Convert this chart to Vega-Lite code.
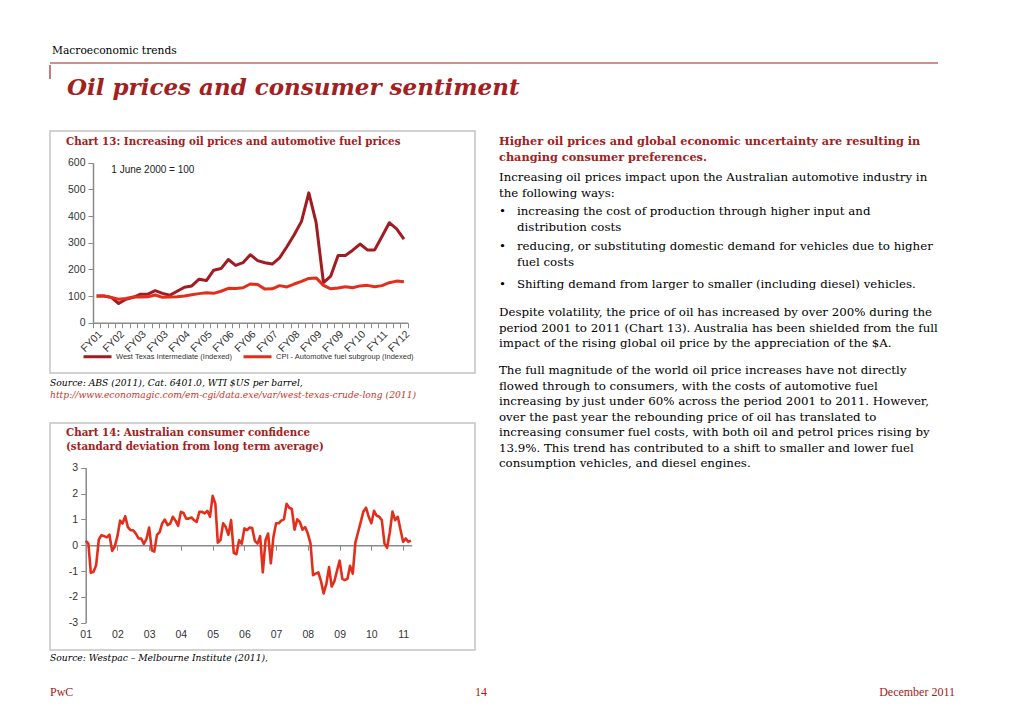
{
  "$schema": "https://vega.github.io/schema/vega-lite/v6.json",
  "background": "white",
  "padding": {"left": 49, "top": 44, "right": 0, "bottom": 0},
  "spacing": 0,
  "config": {
    "view": {"stroke": null},
    "title": {"font": "DejaVu Serif", "anchor": "start", "frame": "group", "fontWeight": "normal", "color": "#000000", "subtitleFont": "DejaVu Serif", "subtitleColor": "#000000", "subtitleFontWeight": "normal"},
    "axis": {"labelFont": "Liberation Sans", "labelColor": "#333333", "domainColor": "#8a8a8a", "tickColor": "#8a8a8a", "grid": false, "labelFontSize": 10.5},
    "legend": {"labelFont": "Liberation Sans"},
    "text": {"font": "Liberation Sans"}
  },
  "datasets": {
    "oil": [
      {"quarter": "2001-03", "wti": 100, "cpi": 100},
      {"quarter": "2001-06", "wti": 100, "cpi": 100},
      {"quarter": "2001-09", "wti": 95, "cpi": 95},
      {"quarter": "2001-12", "wti": 72, "cpi": 88},
      {"quarter": "2002-03", "wti": 88, "cpi": 91},
      {"quarter": "2002-06", "wti": 95, "cpi": 96},
      {"quarter": "2002-09", "wti": 107, "cpi": 96},
      {"quarter": "2002-12", "wti": 107, "cpi": 97},
      {"quarter": "2003-03", "wti": 120, "cpi": 104},
      {"quarter": "2003-06", "wti": 110, "cpi": 95},
      {"quarter": "2003-09", "wti": 103, "cpi": 96},
      {"quarter": "2003-12", "wti": 118, "cpi": 97},
      {"quarter": "2004-03", "wti": 133, "cpi": 100},
      {"quarter": "2004-06", "wti": 138, "cpi": 105},
      {"quarter": "2004-09", "wti": 163, "cpi": 109},
      {"quarter": "2004-12", "wti": 158, "cpi": 112},
      {"quarter": "2005-03", "wti": 197, "cpi": 110},
      {"quarter": "2005-06", "wti": 203, "cpi": 118},
      {"quarter": "2005-09", "wti": 237, "cpi": 129},
      {"quarter": "2005-12", "wti": 215, "cpi": 128},
      {"quarter": "2006-03", "wti": 225, "cpi": 131},
      {"quarter": "2006-06", "wti": 255, "cpi": 145},
      {"quarter": "2006-09", "wti": 233, "cpi": 143},
      {"quarter": "2006-12", "wti": 225, "cpi": 126},
      {"quarter": "2007-03", "wti": 220, "cpi": 127},
      {"quarter": "2007-06", "wti": 243, "cpi": 139},
      {"quarter": "2007-09", "wti": 285, "cpi": 134},
      {"quarter": "2007-12", "wti": 330, "cpi": 145},
      {"quarter": "2008-03", "wti": 380, "cpi": 155},
      {"quarter": "2008-06", "wti": 487, "cpi": 166},
      {"quarter": "2008-09", "wti": 375, "cpi": 168},
      {"quarter": "2008-12", "wti": 150, "cpi": 140},
      {"quarter": "2009-03", "wti": 175, "cpi": 127},
      {"quarter": "2009-06", "wti": 252, "cpi": 130},
      {"quarter": "2009-09", "wti": 252, "cpi": 135},
      {"quarter": "2009-12", "wti": 272, "cpi": 131},
      {"quarter": "2010-03", "wti": 295, "cpi": 138},
      {"quarter": "2010-06", "wti": 273, "cpi": 140},
      {"quarter": "2010-09", "wti": 273, "cpi": 135},
      {"quarter": "2010-12", "wti": 323, "cpi": 139},
      {"quarter": "2011-03", "wti": 375, "cpi": 150},
      {"quarter": "2011-06", "wti": 352, "cpi": 156},
      {"quarter": "2011-09", "wti": 313, "cpi": 154}
    ],
    "confidence": [
      {"month": "2001-01", "conf": 0.17}, {"month": "2001-02", "conf": 0.06}, {"month": "2001-03", "conf": -1.07}, {"month": "2001-04", "conf": -1.03},
      {"month": "2001-05", "conf": -0.78}, {"month": "2001-06", "conf": 0.22}, {"month": "2001-07", "conf": 0.39}, {"month": "2001-08", "conf": 0.35},
      {"month": "2001-09", "conf": 0.3}, {"month": "2001-10", "conf": 0.41}, {"month": "2001-11", "conf": -0.22}, {"month": "2001-12", "conf": -0.06},
      {"month": "2002-01", "conf": 0.35}, {"month": "2002-02", "conf": 0.95}, {"month": "2002-03", "conf": 0.84}, {"month": "2002-04", "conf": 1.12},
      {"month": "2002-05", "conf": 0.7}, {"month": "2002-06", "conf": 0.58}, {"month": "2002-07", "conf": 0.58}, {"month": "2002-08", "conf": 0.45},
      {"month": "2002-09", "conf": 0.26}, {"month": "2002-10", "conf": 0.26}, {"month": "2002-11", "conf": 0.05}, {"month": "2002-12", "conf": 0.24},
      {"month": "2003-01", "conf": 0.68}, {"month": "2003-02", "conf": -0.2}, {"month": "2003-03", "conf": -0.25}, {"month": "2003-04", "conf": 0.4},
      {"month": "2003-05", "conf": 0.5}, {"month": "2003-06", "conf": 0.85}, {"month": "2003-07", "conf": 0.99}, {"month": "2003-08", "conf": 0.78},
      {"month": "2003-09", "conf": 0.84}, {"month": "2003-10", "conf": 1.1}, {"month": "2003-11", "conf": 0.95}, {"month": "2003-12", "conf": 0.75},
      {"month": "2004-01", "conf": 1.29}, {"month": "2004-02", "conf": 1.25}, {"month": "2004-03", "conf": 1.03}, {"month": "2004-04", "conf": 1.03},
      {"month": "2004-05", "conf": 1.07}, {"month": "2004-06", "conf": 0.97}, {"month": "2004-07", "conf": 0.9}, {"month": "2004-08", "conf": 1.29},
      {"month": "2004-09", "conf": 1.29}, {"month": "2004-10", "conf": 1.23}, {"month": "2004-11", "conf": 1.33}, {"month": "2004-12", "conf": 1.1},
      {"month": "2005-01", "conf": 1.91}, {"month": "2005-02", "conf": 1.6}, {"month": "2005-03", "conf": 0.1}, {"month": "2005-04", "conf": 0.2},
      {"month": "2005-05", "conf": 0.85}, {"month": "2005-06", "conf": 0.7}, {"month": "2005-07", "conf": 0.4}, {"month": "2005-08", "conf": 0.97},
      {"month": "2005-09", "conf": -0.3}, {"month": "2005-10", "conf": -0.35}, {"month": "2005-11", "conf": 0.19}, {"month": "2005-12", "conf": 0.06},
      {"month": "2006-01", "conf": 0.65}, {"month": "2006-02", "conf": 0.58}, {"month": "2006-03", "conf": 0.68}, {"month": "2006-04", "conf": 0.66},
      {"month": "2006-05", "conf": 0.17}, {"month": "2006-06", "conf": 0.06}, {"month": "2006-07", "conf": 0.35}, {"month": "2006-08", "conf": -1.05},
      {"month": "2006-09", "conf": 0.19}, {"month": "2006-10", "conf": 0.45}, {"month": "2006-11", "conf": -0.7}, {"month": "2006-12", "conf": 0.32},
      {"month": "2007-01", "conf": 0.85}, {"month": "2007-02", "conf": 0.85}, {"month": "2007-03", "conf": 0.95}, {"month": "2007-04", "conf": 1.0},
      {"month": "2007-05", "conf": 1.6}, {"month": "2007-06", "conf": 1.45}, {"month": "2007-07", "conf": 1.4}, {"month": "2007-08", "conf": 0.6},
      {"month": "2007-09", "conf": 1.0}, {"month": "2007-10", "conf": 0.9}, {"month": "2007-11", "conf": 0.6}, {"month": "2007-12", "conf": 0.7},
      {"month": "2008-01", "conf": 0.45}, {"month": "2008-02", "conf": 0.06}, {"month": "2008-03", "conf": -1.16}, {"month": "2008-04", "conf": -1.1},
      {"month": "2008-05", "conf": -1.05}, {"month": "2008-06", "conf": -1.4}, {"month": "2008-07", "conf": -1.87}, {"month": "2008-08", "conf": -1.5},
      {"month": "2008-09", "conf": -0.85}, {"month": "2008-10", "conf": -1.6}, {"month": "2008-11", "conf": -1.4}, {"month": "2008-12", "conf": -1.0},
      {"month": "2009-01", "conf": -0.6}, {"month": "2009-02", "conf": -1.3}, {"month": "2009-03", "conf": -1.35}, {"month": "2009-04", "conf": -1.3},
      {"month": "2009-05", "conf": -0.8}, {"month": "2009-06", "conf": -1.1}, {"month": "2009-07", "conf": 0.1}, {"month": "2009-08", "conf": 0.5},
      {"month": "2009-09", "conf": 0.9}, {"month": "2009-10", "conf": 1.3}, {"month": "2009-11", "conf": 1.45}, {"month": "2009-12", "conf": 1.1},
      {"month": "2010-01", "conf": 0.85}, {"month": "2010-02", "conf": 1.33}, {"month": "2010-03", "conf": 1.15}, {"month": "2010-04", "conf": 1.1},
      {"month": "2010-05", "conf": 0.97}, {"month": "2010-06", "conf": 0.06}, {"month": "2010-07", "conf": -0.1}, {"month": "2010-08", "conf": 0.5},
      {"month": "2010-09", "conf": 1.3}, {"month": "2010-10", "conf": 0.97}, {"month": "2010-11", "conf": 1.1}, {"month": "2010-12", "conf": 0.62},
      {"month": "2011-01", "conf": 0.13}, {"month": "2011-02", "conf": 0.26}, {"month": "2011-03", "conf": 0.13}, {"month": "2011-04", "conf": 0.18}
    ]
  },
  "vconcat": [
    {
      "width": 888,
      "height": 1,
      "data": {"values": [{}]},
      "title": {"text": "Macroeconomic trends", "orient": "top", "offset": 6, "dx": 2, "fontSize": 10.7},
      "mark": {"type": "rule", "color": "#A32020", "strokeWidth": 1.2},
      "encoding": {"y": {"value": 0}}
    },
    {
      "width": 888,
      "height": 64,
      "data": {"values": [{}]},
      "title": {"text": "Oil prices and consumer sentiment", "orient": "top", "offset": -36, "dx": 17, "fontSize": 23, "fontWeight": "bold", "fontStyle": "italic", "color": "#A32020"},
      "mark": {"type": "rule", "color": "#A32020", "strokeWidth": 1.2},
      "encoding": {"x": {"value": 0}, "y": {"value": -1}, "y2": {"value": 13}}
    },
    {
      "hconcat": [
        {
          "vconcat": [
            {
              "width": 425,
              "height": 242,
              "view": {"stroke": "#c4c4c4", "strokeWidth": 1.5},
              "title": {"text": "Chart  13: Increasing oil prices and automotive fuel prices", "orient": "top", "offset": -16, "dx": 16, "fontSize": 10.3, "fontWeight": "bold", "color": "#A32020"},
              "data": {"name": "oil"},
              "layer": [
                {
                  "transform": [{"fold": ["wti", "cpi"], "as": ["series", "index"]}],
                  "mark": {"type": "line", "strokeWidth": 3, "strokeJoin": "round"},
                  "encoding": {
                    "x": {
                      "field": "quarter", "type": "ordinal",
                      "scale": {"type": "band", "range": [43, 357.6], "paddingInner": 0, "paddingOuter": 0},
                      "axis": {
                        "orient": "bottom", "offset": -50.3, "tickBand": "extent", "tickSize": 5, "domainWidth": 1.5,
                        "labelAngle": -45, "labelAlign": "right", "labelBaseline": "top", "labelPadding": 1, "labelOverlap": false,
                        "title": null,
                        "labelExpr": "(((parseInt(substring(datum.value,0,4)) - 2001) * 12 + parseInt(substring(datum.value,5,7)) - 3) % 9 == 0) ? ('FY' + ((parseInt(substring(datum.value,2,4)) + (parseInt(substring(datum.value,5,7)) >= 7 ? 1 : 0)) < 10 ? '0' : '') + (parseInt(substring(datum.value,2,4)) + (parseInt(substring(datum.value,5,7)) >= 7 ? 1 : 0))) : ''"
                      }
                    },
                    "y": {
                      "field": "index", "type": "quantitative",
                      "scale": {"domain": [0, 600], "range": [191.7, 31.7], "nice": false},
                      "axis": {"orient": "left", "offset": -43, "values": [0, 100, 200, 300, 400, 500, 600], "tickSize": 5, "labelPadding": 3, "domainWidth": 1.5, "title": null}
                    },
                    "color": {
                      "field": "series", "type": "nominal",
                      "scale": {"domain": ["wti", "cpi"], "range": ["#A11B21", "#E42E1C"]},
                      "legend": {
                        "orient": "none", "legendX": 32, "legendY": 278, "direction": "horizontal", "title": null,
                        "symbolType": "stroke", "symbolSize": 784, "symbolStrokeWidth": 3,
                        "labelFontSize": 7.5, "labelColor": "#333333", "columnPadding": 4, "labelOffset": 3,
                        "labelExpr": "datum.value == 'wti' ? 'West Texas Intermediate (Indexed)' : 'CPI - Automotive fuel subgroup (Indexed)'"
                      }
                    }
                  }
                },
                {
                  "transform": [{"filter": "datum.quarter == '2001-09'"}],
                  "mark": {"type": "text", "align": "left", "baseline": "middle", "fontSize": 10, "color": "#222222"},
                  "encoding": {
                    "x": {"field": "quarter", "type": "ordinal"},
                    "y": {"datum": 572, "type": "quantitative"},
                    "text": {"value": "1 June 2000 = 100"}
                  }
                }
              ]
            },
            {
              "width": 425,
              "height": 50,
              "data": {"values": [{}]},
              "title": {
                "text": "Source: ABS (2011), Cat.  6401.0,  WTI $US per barrel,",
                "subtitle": "http://www.economagic.com/em-cgi/data.exe/var/west-texas-crude-long  (2011)",
                "orient": "top", "offset": -27, "fontSize": 9.2, "fontStyle": "italic",
                "subtitleFontSize": 9.2, "subtitleFontStyle": "italic", "subtitleColor": "#C0392B", "subtitlePadding": 3
              },
              "mark": {"type": "text", "fontSize": 1},
              "encoding": {"text": {"value": ""}}
            },
            {
              "width": 425,
              "height": 227,
              "view": {"stroke": "#c4c4c4", "strokeWidth": 1.5},
              "title": {"text": ["Chart  14: Australian consumer confidence", "(standard deviation from long term average)"], "orient": "top", "offset": -29, "dx": 16, "fontSize": 10.3, "fontWeight": "bold", "color": "#A32020", "lineHeight": 13.5},
              "data": {"name": "confidence"},
              "mark": {"type": "line", "color": "#E42E1C", "strokeWidth": 2.6, "strokeJoin": "round"},
              "encoding": {
                "x": {
                  "field": "month", "type": "temporal",
                  "scale": {"domain": [{"year": 2001, "month": 1, "date": 1}, {"year": 2011, "month": 4, "date": 10}], "range": [35.7, 361.7], "nice": false},
                  "axis": {
                    "orient": "bottom", "offset": -104.8, "tickSize": 5, "domainWidth": 1.5,
                    "tickCount": {"interval": "year", "step": 1},
                    "format": "%y", "labelPadding": 79, "labelFlush": false, "labelOverlap": false, "title": null
                  }
                },
                "y": {
                  "field": "conf", "type": "quantitative",
                  "scale": {"domain": [-3, 3], "range": [199.7, 44.7], "nice": false, "zero": false},
                  "axis": {"orient": "left", "offset": -35.7, "values": [-3, -2, -1, 0, 1, 2, 3], "labelExpr": "'' + datum.value", "tickSize": 5, "labelPadding": 3, "domainWidth": 1.5, "title": null}
                }
              }
            },
            {
              "width": 425,
              "height": 35,
              "data": {"values": [{}]},
              "title": {"text": "Source: Westpac – Melbourne Institute (2011),", "orient": "top", "offset": -13, "fontSize": 9.2, "fontStyle": "italic"},
              "mark": {"type": "text", "fontSize": 1},
              "encoding": {"text": {"value": ""}}
            }
          ],
          "spacing": 0,
          "bounds": "flush"
        },
        {
          "vconcat": [
            {
              "width": 436, "height": 5, "data": {"values": [{}]},
              "title": {"text": ["Higher oil prices and global economic uncertainty are resulting in", "changing consumer preferences."], "orient": "bottom", "offset": 0, "fontSize": 11.3, "fontWeight": "bold", "color": "#A32020", "lineHeight": 15.5},
              "mark": {"type": "text", "fontSize": 1}, "encoding": {"text": {"value": ""}}
            },
            {
              "width": 436, "height": 36, "data": {"values": [{}]},
              "title": {"text": ["Increasing oil prices impact upon the Australian automotive industry in", "the following ways:"], "orient": "bottom", "offset": 0, "fontSize": 11.8, "lineHeight": 15.5},
              "mark": {"type": "text", "fontSize": 1}, "encoding": {"text": {"value": ""}}
            },
            {
              "width": 436, "height": 34, "data": {"values": [{}]},
              "title": {"text": ["•\u2002\u2004\u200Aincreasing the cost of production through higher input and", "\u200B\u2003\u2004\u200A\u200Adistribution costs"], "orient": "bottom", "offset": 0, "fontSize": 11.8, "lineHeight": 15.5},
              "mark": {"type": "text", "fontSize": 1}, "encoding": {"text": {"value": ""}}
            },
            {
              "width": 436, "height": 35, "data": {"values": [{}]},
              "title": {"text": ["•\u2002\u2004\u200Areducing, or substituting domestic demand for vehicles due to higher", "\u200B\u2003\u2004\u200A\u200Afuel costs"], "orient": "bottom", "offset": 0, "fontSize": 11.8, "lineHeight": 15.5},
              "mark": {"type": "text", "fontSize": 1}, "encoding": {"text": {"value": ""}}
            },
            {
              "width": 436, "height": 38, "data": {"values": [{}]},
              "title": {"text": ["•\u2002\u2004\u200AShifting demand from larger to smaller (including diesel) vehicles."], "orient": "bottom", "offset": 0, "fontSize": 11.8, "lineHeight": 15.5},
              "mark": {"type": "text", "fontSize": 1}, "encoding": {"text": {"value": ""}}
            },
            {
              "width": 436, "height": 28, "data": {"values": [{}]},
              "title": {"text": ["Despite volatility, the price of oil has increased by over 200% during the", "period 2001 to 2011 (Chart 13). Australia has been shielded from the full", "impact of the rising global oil price by the appreciation of the $A."], "orient": "bottom", "offset": 0, "fontSize": 11.8, "lineHeight": 15.5},
              "mark": {"type": "text", "fontSize": 1}, "encoding": {"text": {"value": ""}}
            },
            {
              "width": 436, "height": 58, "data": {"values": [{}]},
              "title": {"text": ["The full magnitude of the world oil price increases have not directly", "flowed through to consumers, with the costs of automotive fuel", "increasing by just under 60% across the period 2001 to 2011.  However,", "over the past year the rebounding price of oil has translated to", "increasing consumer fuel costs, with both oil and petrol prices rising by", "13.9%.  This trend has contributed to a shift to smaller and lower fuel", "consumption vehicles, and diesel engines."], "orient": "bottom", "offset": 0, "fontSize": 11.8, "lineHeight": 15.5},
              "mark": {"type": "text", "fontSize": 1}, "encoding": {"text": {"value": ""}}
            }
          ],
          "spacing": 0,
          "bounds": "flush"
        }
      ],
      "spacing": 23
    },
    {
      "hconcat": [
        {
          "width": 300, "height": 1, "data": {"values": [{}]},
          "title": {"text": "PwC", "orient": "top", "offset": 0, "anchor": "start", "font": "Liberation Serif", "fontSize": 12, "color": "#A32020"},
          "mark": {"type": "text", "fontSize": 1}, "encoding": {"text": {"value": ""}}
        },
        {
          "width": 262, "height": 1, "data": {"values": [{}]},
          "title": {"text": "14", "orient": "top", "offset": 0, "anchor": "middle", "font": "Liberation Serif", "fontSize": 12, "color": "#A32020"},
          "mark": {"type": "text", "fontSize": 1}, "encoding": {"text": {"value": ""}}
        },
        {
          "width": 343, "height": 1, "data": {"values": [{}]},
          "title": {"text": "December 2011", "orient": "top", "offset": 0, "anchor": "end", "font": "Liberation Serif", "fontSize": 12, "color": "#A32020"},
          "mark": {"type": "text", "fontSize": 1}, "encoding": {"text": {"value": ""}}
        }
      ],
      "spacing": 0,
      "bounds": "flush"
    }
  ]
}
